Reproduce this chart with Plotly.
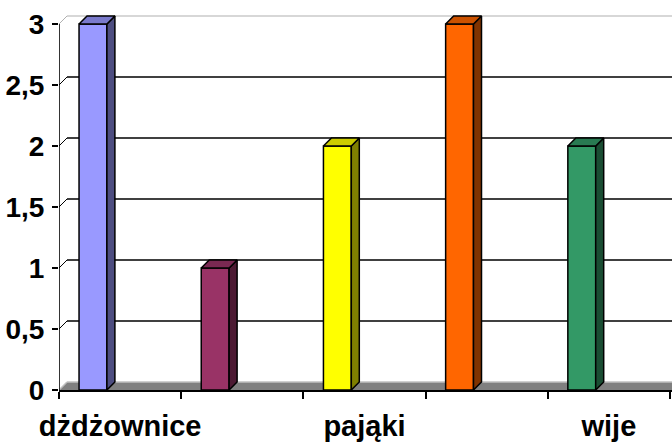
import plotly.graph_objects as go

# ---- data ----
values = [3, 1, 2, 3, 2]
front_colors = ["#9999FF", "#993366", "#FFFF00", "#FF6600", "#339966"]
top_colors = ["#7A7ACC", "#7A2952", "#CCCC00", "#CC5200", "#297A52"]
side_colors = ["#4D4D80", "#4D1A33", "#808000", "#803300", "#1A4D33"]
x_labels = ["dżdżownice", "pająki", "wije"]
x_label_slots = [0, 2, 4]
y_tickvals = [0, 0.5, 1, 1.5, 2, 2.5, 3]
y_ticktext = ["0", "0,5", "1", "1,5", "2", "2,5", "3"]

# ---- geometry ----
W, H = 672, 442
L, R, T, B = 59, 0, 14, 52
slot_px = 122.2
unit_px = 122.0
depth_px = 8
xmax = (W - L - R) / slot_px
ymax = (H - T - B) / unit_px
dx = depth_px / slot_px
dy = depth_px / unit_px
bar_off = 0.164
bar_w = 0.228

fig = go.Figure()

# front faces
fig.add_trace(go.Bar(
    x=list(range(len(values))), y=values, width=bar_w, offset=bar_off,
    marker=dict(color=front_colors, line=dict(color="black", width=1.5)),
    hoverinfo="skip", showlegend=False,
))

# side and top faces
for i, v in enumerate(values):
    x0 = i + bar_off
    x1 = x0 + bar_w
    fig.add_trace(go.Scatter(
        x=[x1, x1, x1 + dx, x1 + dx, x1], y=[0, v, v + dy, dy, 0],
        mode="lines", fill="toself", fillcolor=side_colors[i],
        line=dict(color="black", width=1.5), hoverinfo="skip", showlegend=False,
    ))
    fig.add_trace(go.Scatter(
        x=[x0, x1, x1 + dx, x0 + dx, x0], y=[v, v, v + dy, v + dy, v],
        mode="lines", fill="toself", fillcolor=top_colors[i],
        line=dict(color="black", width=1.5), hoverinfo="skip", showlegend=False,
    ))

shapes = []
# floor
shapes.append(dict(type="path", layer="below",
                   path=f"M 0 0 L {xmax} 0 L {xmax} {dy} L {dx} {dy} Z",
                   fillcolor="#808080", line=dict(width=0)))
shapes.append(dict(type="line", layer="below", x0=dx, y0=dy, x1=xmax, y1=dy,
                   line=dict(color="#C0C0C0", width=1.5)))
shapes.append(dict(type="line", layer="below", x0=0, y0=0, x1=dx, y1=dy,
                   line=dict(color="#C0C0C0", width=1.5)))
# gridlines on back wall
for v in y_tickvals[1:]:
    col = "#B0B0B0" if v == y_tickvals[-1] else "black"
    wid = 1.2 if v == y_tickvals[-1] else 1.6
    shapes.append(dict(type="line", layer="below", x0=dx, y0=v + dy, x1=xmax, y1=v + dy,
                       line=dict(color=col, width=wid)))
    shapes.append(dict(type="line", layer="below", x0=0, y0=v, x1=dx, y1=v + dy,
                       line=dict(color=col, width=1)))
# front value axis line
shapes.append(dict(type="line", layer="above", x0=0, y0=0, x1=0, y1=y_tickvals[-1],
                   line=dict(color="black", width=1.6)))

fig.update_layout(
    width=W, height=H,
    margin=dict(l=L, r=R, t=T, b=B, pad=0),
    paper_bgcolor="white", plot_bgcolor="white",
    shapes=shapes,
    showlegend=False,
    font=dict(family="Arial, Liberation Sans, sans-serif", color="black"),
    xaxis=dict(
        range=[0, xmax], showgrid=False, zeroline=False,
        showline=True, linecolor="black", linewidth=1.6,
        tickmode="array", tickvals=[s + 0.5 for s in x_label_slots], ticktext=x_labels,
        ticks="", ticklabelstandoff=9,
        tickfont=dict(size=29, weight="bold"),
        minor=dict(tick0=0, dtick=1, ticks="outside", ticklen=7, tickwidth=1.6,
                   tickcolor="black", showgrid=False),
        automargin=False, fixedrange=True,
    ),
    yaxis=dict(
        range=[0, ymax], showgrid=False, zeroline=False, showline=False,
        tickmode="array", tickvals=y_tickvals, ticktext=y_ticktext,
        ticks="outside", ticklen=6, tickwidth=1.6, tickcolor="black",
        ticklabelstandoff=2,
        tickfont=dict(size=28, weight="bold"),
        automargin=False, fixedrange=True,
    ),
)

fig.write_html("out.html")
